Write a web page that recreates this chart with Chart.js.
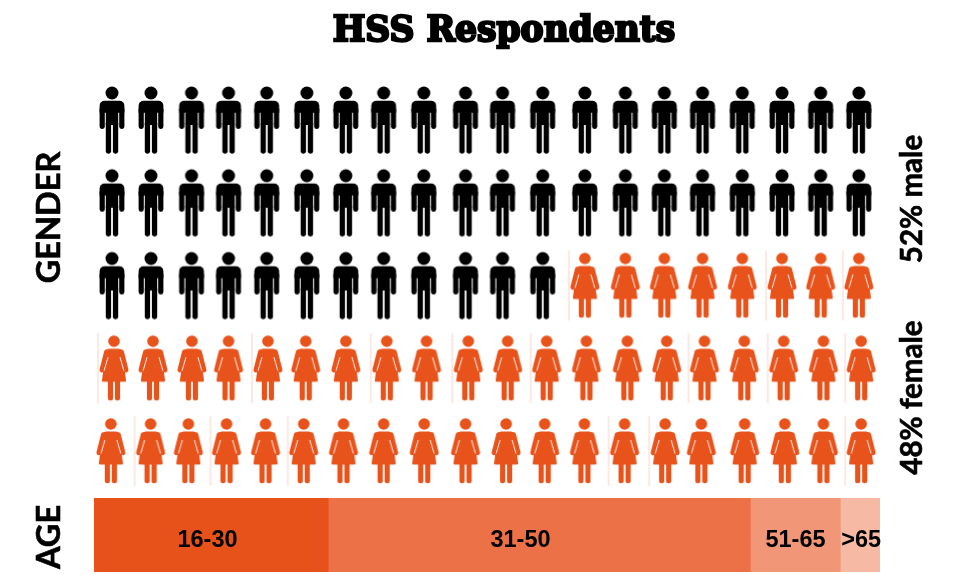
<!DOCTYPE html>
<html><head><meta charset="utf-8">
<style>
html,body{margin:0;padding:0;background:#fff;width:953px;height:575px;overflow:hidden}
canvas{position:absolute;left:0;display:block}
#people{top:0}
#age{top:492px}
</style>
<script src="https://cdn.jsdelivr.net/npm/chart.js@4/dist/chart.umd.min.js"></script>
</head><body>
<canvas id="people" width="953" height="492"></canvas>
<canvas id="age" width="953" height="83"></canvas>
<script>
const titleText = 'HSS Respondents';
const genderLabel = 'GENDER';
const ageLabel = 'AGE';
const sideLabels = ['52% male', '48% female'];

// One row of figures per entry: how many are male, the rest are female.
const rowNumbers = [1, 2, 3, 4, 5];
const maleCounts = [20, 20, 12, 0, 0];

// Column for each figure of a row (the rows are not perfectly aligned).
const columnsTopRows = [1.00,1.99,3.02,3.96,4.93,5.95,6.94,7.90,8.92,9.98,10.92,11.94,13.01,14.04,15.03,16.00,17.01,18.02,19.00,19.97];
const columnsRow4 = [1.05,2.04,3.03,3.96,4.96,5.92,6.94,7.98,8.99,10.05,11.05,12.04,13.05,14.09,15.09,16.05,17.06,18.06,19.07,20.03];
const columnsRow5 = [0.97,1.98,2.94,3.91,4.90,5.87,6.88,7.90,8.93,9.98,11.01,11.99,13.00,14.02,15.05,15.97,17.07,18.09,19.07,20.03];
const rowColumns = [columnsTopRows, columnsTopRows, columnsTopRows, columnsRow4, columnsRow5];

// Figure numbers (1-20) that carry a faint seam on their left, per row.
const seamRow3 = [13, 18, 20];
const seamRow4 = [1, 5, 8, 10, 12, 16, 18, 20];
const seamRow5 = [2, 4, 6, 14, 15, 20];
const rowSeams = [[], [], seamRow3, seamRow4, seamRow5];

const ageGroups = ['16-30', '31-50', '51-65', '>65'];
const ageShares = [29.8, 53.7, 11.45, 5.05];
const ageLabelAt = [14.44, 54.26, 89.25, 97.6];
const ageColors = ['#E7521B', '#EC7146', '#F29678', '#F6B9A4'];

const BLACK = '#000000', ORANGE = '#E8531C', SEAM = '#F7D3C6';

function iconCanvas() {
  const c = document.createElement('canvas');
  c.width = 36; c.height = 74;
  return c;
}
function roundBar(g, x0, y0, x1, y1, r) {
  g.beginPath(); g.roundRect(x0, y0, x1 - x0, y1 - y0, r); g.fill();
}
function maleIcon() {
  const c = iconCanvas(), g = c.getContext('2d'), cx = 18;
  g.fillStyle = BLACK;
  g.beginPath(); g.arc(cx, 10, 6.5, 0, Math.PI * 2); g.fill();
  g.beginPath(); g.roundRect(cx - 12.4, 17.7, 24.8, 12, [5, 5, 0, 0]); g.fill();
  roundBar(g, cx - 12.4, 24, cx - 7.2, 45.9, 2.3);
  roundBar(g, cx + 7.2, 24, cx + 12.4, 45.9, 2.3);
  g.fillRect(cx - 6.2, 24, 12.4, 18);
  roundBar(g, cx - 6.2, 38, cx - 0.9, 70.7, 2.4);
  roundBar(g, cx + 0.9, 38, cx + 6.2, 70.7, 2.4);
  return c;
}
function femaleIcon(withSeam) {
  const c = iconCanvas(), g = c.getContext('2d'), cx = 18;
  if (withSeam) { g.fillStyle = SEAM; g.fillRect(cx - 16.5, 2, 1, 70); }
  g.fillStyle = ORANGE; g.strokeStyle = ORANGE;
  g.beginPath(); g.arc(cx, 10, 5.8, 0, Math.PI * 2); g.fill();
  g.beginPath();
  g.moveTo(cx - 5, 17.4); g.lineTo(cx + 5, 17.4);
  g.quadraticCurveTo(cx + 7.5, 17.4, cx + 8.2, 20);
  g.lineTo(cx + 12, 49); g.quadraticCurveTo(cx + 12.3, 50.6, cx + 11, 50.6);
  g.lineTo(cx - 11, 50.6); g.quadraticCurveTo(cx - 12.3, 50.6, cx - 12, 49);
  g.lineTo(cx - 8.2, 20); g.quadraticCurveTo(cx - 7.5, 17.4, cx - 5, 17.4);
  g.closePath(); g.fill();
  g.lineWidth = 4.6; g.lineCap = 'round';
  g.beginPath(); g.moveTo(cx - 7.6, 20.5); g.lineTo(cx - 12.2, 38.9); g.stroke();
  g.beginPath(); g.moveTo(cx + 7.6, 20.5); g.lineTo(cx + 12.2, 38.9); g.stroke();
  roundBar(g, cx - 6.1, 48, cx - 0.9, 69.3, 2.2);
  roundBar(g, cx + 0.9, 48, cx + 6.1, 69.3, 2.2);
  g.globalCompositeOperation = 'destination-out';
  g.lineWidth = 0.9; g.lineCap = 'butt';
  g.beginPath(); g.moveTo(cx - 6, 26); g.lineTo(cx - 9.9, 39.5); g.stroke();
  g.beginPath(); g.moveTo(cx + 6, 26); g.lineTo(cx + 9.9, 39.5); g.stroke();
  g.globalCompositeOperation = 'source-over';
  return c;
}
const manStyle = maleIcon(), womanStyle = femaleIcon(false), womanSeamStyle = femaleIcon(true);

const malePoints = [], femalePoints = [], femaleStyles = [];
rowNumbers.forEach((row, r) => {
  rowColumns[r].forEach((col, i) => {
    if (i < maleCounts[r]) {
      malePoints.push({ x: col, y: row });
    } else {
      femalePoints.push({ x: col, y: row });
      femaleStyles.push(rowSeams[r].includes(i + 1) ? womanSeamStyle : womanStyle);
    }
  });
});

function rotatedText(ctx, text, x, y, font) {
  ctx.save();
  ctx.translate(x, y);
  ctx.rotate(-Math.PI / 2);
  ctx.font = font;
  ctx.fillStyle = '#000';
  ctx.strokeStyle = '#000';
  ctx.lineWidth = 0.6;
  ctx.textAlign = 'center';
  ctx.textBaseline = 'middle';
  ctx.fillText(text, 0, 0);
  ctx.strokeText(text, 0, 0);
  ctx.restore();
}

new Chart(document.getElementById('people'), {
  type: 'scatter',
  data: { datasets: [
    { label: 'male', data: malePoints, pointStyle: manStyle, pointRadius: 20, clip: false },
    { label: 'female', data: femalePoints, pointStyle: femaleStyles, pointRadius: 20, clip: false }
  ] },
  options: {
    responsive: false, animation: false, events: [],
    layout: { padding: { left: 112, right: 93, top: 120, bottom: 41 } },
    scales: {
      x: { type: 'linear', min: 1, max: 20, display: false },
      y: { type: 'linear', min: 1, max: 5, reverse: true, display: false }
    },
    plugins: { legend: { display: false }, tooltip: { enabled: false }, title: { display: false } }
  },
  plugins: [{ id: 'sideText', afterDraw(chart) {
    const ctx = chart.ctx;
    ctx.save();
    ctx.font = 'bold 34.5px "DejaVu Serif"';
    ctx.textAlign = 'center';
    ctx.textBaseline = 'alphabetic';
    ctx.fillStyle = '#000';
    ctx.strokeStyle = '#000';
    ctx.lineWidth = 2.4;
    ctx.lineJoin = 'miter';
    ctx.fillText(titleText, 504, 41);
    ctx.strokeText(titleText, 504, 41);
    ctx.restore();
    rotatedText(ctx, genderLabel, 49.5, 217.5, 'bold 32.5px Lato');
    rotatedText(ctx, sideLabels[0], 912, 199, 'bold 29.5px Lato');
    rotatedText(ctx, sideLabels[1], 912, 397.5, 'bold 29.5px Lato');
  } }]
});

new Chart(document.getElementById('age'), {
  type: 'bar',
  data: {
    labels: [ageLabel],
    datasets: ageGroups.map((g, i) => ({
      label: g, data: [ageShares[i]], backgroundColor: ageColors[i],
      barPercentage: 1, categoryPercentage: 1, borderWidth: 0
    }))
  },
  options: {
    indexAxis: 'y', responsive: false, animation: false, events: [],
    layout: { padding: { left: 94, right: 73, top: 6, bottom: 3 } },
    scales: {
      x: { stacked: true, min: 0, max: 100, display: false },
      y: { stacked: true, display: false }
    },
    plugins: { legend: { display: false }, tooltip: { enabled: false } }
  },
  plugins: [{ id: 'ageText', afterDraw(chart) {
    const ctx = chart.ctx, a = chart.chartArea, xs = chart.scales.x;
    rotatedText(ctx, ageLabel, 49.5, 45, 'bold 32.5px Lato');
    ctx.save();
    ctx.font = 'bold 23.5px "Liberation Sans"';
    ctx.fillStyle = '#000';
    ctx.textAlign = 'center';
    ctx.textBaseline = 'middle';
    ageGroups.forEach((g, i) => {
      ctx.fillText(g, xs.getPixelForValue(ageLabelAt[i]), (a.top + a.bottom) / 2 + 6);
    });
    ctx.restore();
  } }]
});
</script>
</body></html>
